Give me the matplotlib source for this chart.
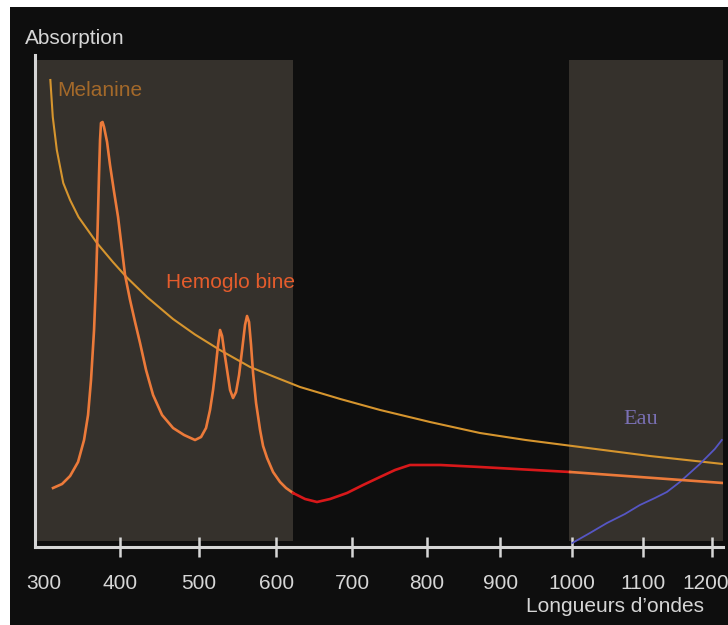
import numpy as np
import matplotlib
matplotlib.use('Agg')
import matplotlib.pyplot as plt
from matplotlib.patches import Rectangle
from matplotlib.transforms import ScaledTranslation

plt.rcParams['font.family'] = ['Liberation Sans', 'DejaVu Sans']

# wavelengths (nm) and absorption (arbitrary units, 0 = x axis)
melanine_wl = [313, 316, 321, 329, 337.5, 348, 371, 391, 408, 434, 467, 495, 527, 566,
               598, 631, 684, 737, 804, 872, 935, 1011, 1110, 1216]
melanine_abs = [93.6, 86.2, 79.6, 73.0, 69.6, 66.2, 61.0, 57.2, 54.2, 50.2, 45.8, 42.7, 39.6, 36.2,
                34.2, 32.2, 29.8, 27.6, 25.2, 23.0, 21.6, 20.2, 18.4, 16.8]

hemo_wl = [316.3, 327.5, 337.5, 347.4, 354.9, 359.9, 363.6, 367.4, 369.9, 371.8,
           373.6, 374.9, 376.1, 378.0, 379.9, 383.7, 387.4, 392.5, 397.5, 402.5,
           406.3, 412.6, 418.9, 425.2, 432.8, 441.7, 453.1, 467.1, 481.1, 495.1,
           502.8, 509.2, 514.3, 518.2, 520.8, 524.6, 527.2, 529.8, 532.3, 536.2,
           540.1, 543.9, 547.8, 551.7, 555.6, 559.4, 562.0, 564.6, 567.2, 569.8,
           573.7, 578.9, 582.8, 588.0, 595.8, 604.9, 612.7, 621.9, 637.6, 653.3,
           670.5, 692.9, 714.2, 736.8, 756.9, 777.0, 818, 872, 997, 1216]
hemo_abs = [12.0, 12.8, 14.4, 17.2, 21.6, 26.6, 33.6, 43.6, 53.6, 63.6,
            74.6, 81.6, 85.0, 85.2, 84.2, 81.2, 76.6, 71.2, 66.2, 59.6,
            54.6, 49.6, 45.2, 41.0, 35.6, 30.6, 26.6, 24.0, 22.6, 21.6,
            22.2, 24.0, 27.6, 31.6, 35.0, 40.6, 43.6, 42.4, 39.6, 35.6,
            31.6, 30.0, 31.2, 34.6, 39.6, 44.6, 46.4, 45.2, 40.6, 35.0,
            29.0, 23.6, 20.4, 18.0, 15.2, 13.2, 12.0, 11.0, 9.8, 9.2,
            9.8, 11.0, 12.6, 14.2, 15.6, 16.6, 16.6, 16.2, 15.2, 13.0]

eau_wl = [1000, 1024.8, 1048.9, 1074.4, 1095.8, 1117.3, 1134.5, 1153.2, 1167.7, 1182.2,
          1192.4, 1204.0, 1214.3]
eau_abs = [1.0, 3.0, 5.0, 6.8, 8.6, 10.0, 11.2, 13.2, 15.0, 16.8, 18.2, 19.8, 21.6]

# shaded bands (nm)
bands = [(296, 622), (996, 1216)]
xticks = [300, 400, 500, 600, 700, 800, 900, 1000, 1100, 1200]

AXIS_COL = '#d6d6d6'
BG = '#0e0e0e'
BAND = '#35312c'


# the source axis is slightly compressed toward long wavelengths
def fwd(w):
    d = np.asarray(w, dtype=float) - 400
    return 120 + 0.795 * d - 6.875e-5 * d ** 2


def inv(p):
    p = np.asarray(p, dtype=float)
    disc = np.clip(0.632025 - 2.75e-4 * (p - 120), 0, None)
    return 400 + (0.795 - np.sqrt(disc)) / 1.375e-4


fig = plt.figure(figsize=(7.28, 6.25), dpi=100, facecolor='white')
fig.add_artist(Rectangle((10 / 728, 0), 1, 1 - 7 / 625, transform=fig.transFigure,
                         facecolor=BG, edgecolor='none', zorder=-10))

ax = fig.add_axes([35 / 728, 78 / 625, 688 / 728, 492 / 625])
ax.set_facecolor('none')
ax.set_xscale('function', functions=(fwd, inv))
ax.set_xlim(294, 1216)
ax.set_ylim(0.2, 98.6)

for x0, x1 in bands:
    ax.add_patch(Rectangle((x0, 1.4), x1 - x0, 96.2, facecolor=BAND, edgecolor='none', zorder=0))

ax.plot(melanine_wl, melanine_abs, color='#d6952e', lw=1.5, zorder=3, solid_joinstyle='round')

# hemoglobin is orange over the shaded bands and red in between
hw = np.array(hemo_wl)
ha = np.array(hemo_abs)
left = hw <= 622
mid = (hw >= 621) & (hw <= 997)
right = hw >= 997
ax.plot(hw[left], ha[left], color='#ec7a3a', lw=1.9, zorder=4, solid_joinstyle='round')
ax.plot(hw[mid], ha[mid], color='#d8181a', lw=1.9, zorder=4, solid_joinstyle='round')
ax.plot(hw[right], ha[right], color='#ec7a3a', lw=1.9, zorder=4)

ax.plot(eau_wl, eau_abs, color='#5656c4', lw=1.3, zorder=3)

ax.text(375, 91.6, 'Melanine', color='#a4692a', fontsize=15, ha='center', va='center')
ax.text(541, 53, 'Hemoglo bine', color='#e45c2c', fontsize=15, ha='center', va='center')
ax.text(1097, 25.6, 'Eau', color='#7a70b4', fontsize=16, ha='center', va='center',
        family=['Liberation Serif', 'DejaVu Serif'])

for side in ['top', 'right']:
    ax.spines[side].set_visible(False)
for side in ['left', 'bottom']:
    ax.spines[side].set_color(AXIS_COL)
    ax.spines[side].set_linewidth(2.2)

ax.set_yticks([])
ax.set_xticks(xticks)
ax.set_xticklabels([str(t) for t in xticks])
ax.xaxis.set_minor_locator(matplotlib.ticker.NullLocator())
ax.tick_params(axis='x', direction='inout', length=15, width=1.8, color=AXIS_COL,
               labelcolor=AXIS_COL, labelsize=15, pad=12)
ticks = ax.xaxis.get_major_ticks()
ticks[0].tick1line.set_visible(False)
lbl0 = ticks[0].label1
lbl0.set_transform(lbl0.get_transform() + ScaledTranslation(4 / 100, 0, fig.dpi_scale_trans))
lbl_last = ticks[-1].label1
lbl_last.set_transform(lbl_last.get_transform() + ScaledTranslation(-6 / 100, 0, fig.dpi_scale_trans))

fig.text(75 / 728, 1 - 38 / 625, 'Absorption', color=AXIS_COL, fontsize=15, ha='center', va='center')
fig.text(615 / 728, 1 - 606 / 625, 'Longueurs d\u2019ondes', color=AXIS_COL, fontsize=15,
         ha='center', va='center')

fig.savefig('out.png', dpi=100, facecolor='white')
